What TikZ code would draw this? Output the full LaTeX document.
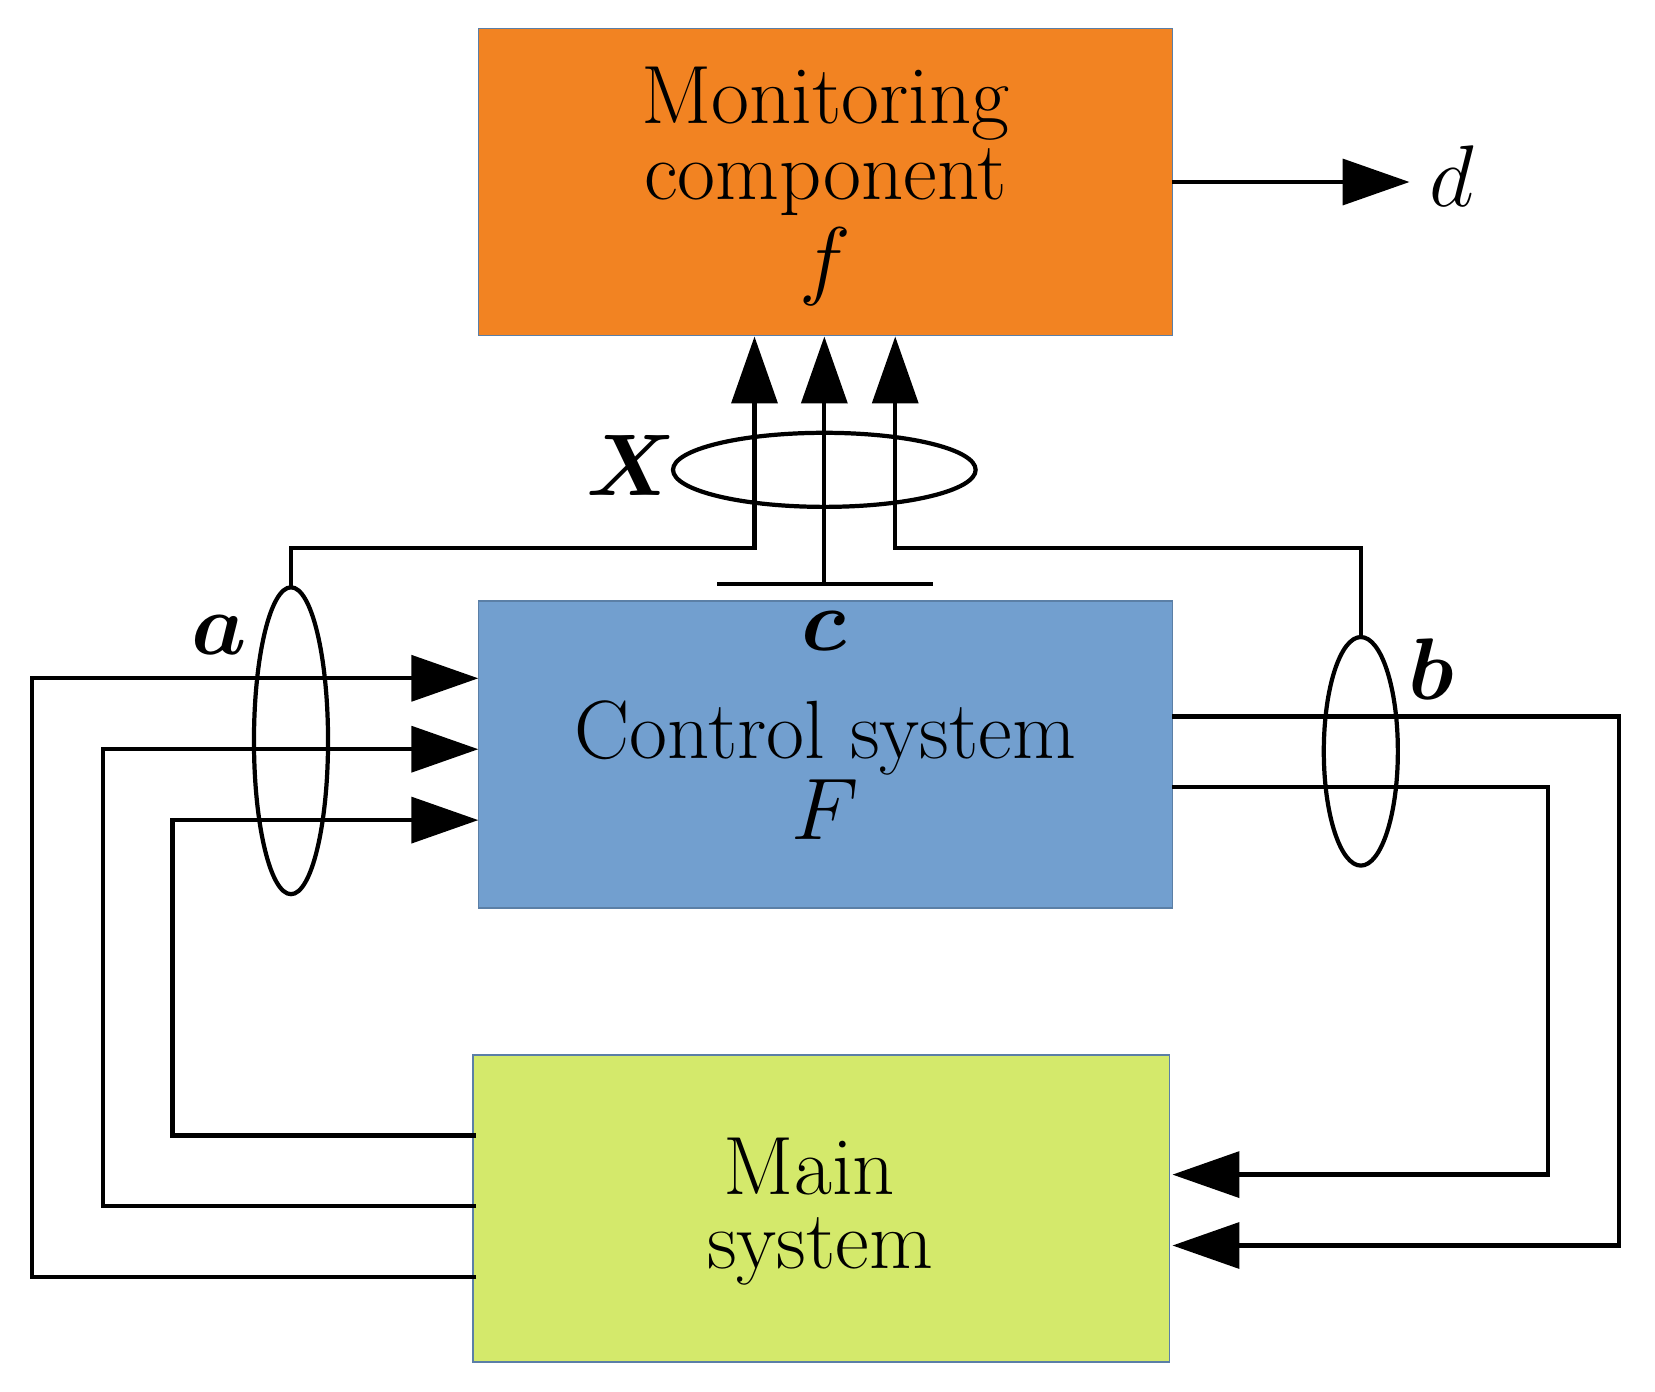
\documentclass[tikz,border=0pt]{standalone}
\usetikzlibrary{arrows.meta}
\usepackage{bm}
\definecolor{orng}{HTML}{F28322}
\definecolor{blu}{HTML}{729FCF}
\definecolor{grn}{HTML}{D4E96B}
\begin{document}
\begin{tikzpicture}[x=0.01058cm,y=-0.01058cm,
  box/.style={draw=blu!70!black,line width=0.4pt,minimum width=656\pgflinewidth,inner sep=0pt},
  wire/.style={line width=1.2pt},
  arr/.style={wire,-{Triangle[length=19pt,width=13pt]}},
  txt/.style={font=\fontsize{23.5}{28}\selectfont,align=center}]
\useasboundingbox (0,0) rectangle (1564,1315);
\fill[orng,draw=blu!80!black,line width=0.4pt] (452,27) rectangle (1108,317);
\fill[blu,draw=blu!80!black,line width=0.4pt] (452,568) rectangle (1108,858);
\fill[grn,draw=blu!80!black,line width=0.4pt] (447,997) rectangle (1105,1287);
\node[txt] (mon) at (780,98) {Monitoring};
\node[txt] (comp) at (780,172) {component};
\node[txt] (f) at (780,252) {$f$};
\node[txt] (cs) at (780,697) {Control system};
\node[txt] (F) at (780,765) {$F$};
\node[txt] (main) at (765,1102) {Main};
\node[txt] (sys) at (775,1183) {system};
\node[txt] (d) at (1372,166) {$d$};
\node[txt] (X) at (597,440) {$\bm{X}$};
\node[txt] (a) at (207,600) {$\bm{a}$};
\node[txt] (b) at (1353,632) {$\bm{b}$};
\node[txt] (c) at (779,596) {$\bm{c}$};
% output d
\draw[arr] (1108,172) -- (1332,172);
% ellipses
\draw[wire] (779,444) ellipse (143 and 35);
\draw[wire] (275,700) ellipse (35 and 145);
\draw[wire] (1286,710) ellipse (35 and 108);
% up arrows
\draw[arr] (275,555) -- (275,518) -- (713,518) -- (713,318);
\draw[arr] (779,552) -- (779,318);
\draw[arr] (1286,602) -- (1286,518) -- (846,518) -- (846,318);
\draw[wire] (678,552) -- (882,552);
% left inputs
\draw[arr] (450,1073) -- (163,1073) -- (163,775) -- (452,775);
\draw[arr] (450,1140) -- (97,1140) -- (97,708) -- (452,708);
\draw[arr] (450,1207) -- (30,1207) -- (30,641) -- (452,641);
% right outputs
\draw[arr] (1108,677) -- (1530,677) -- (1530,1177) -- (1108,1177);
\draw[arr] (1108,744) -- (1463,744) -- (1463,1110) -- (1108,1110);
\end{tikzpicture}
\end{document}
